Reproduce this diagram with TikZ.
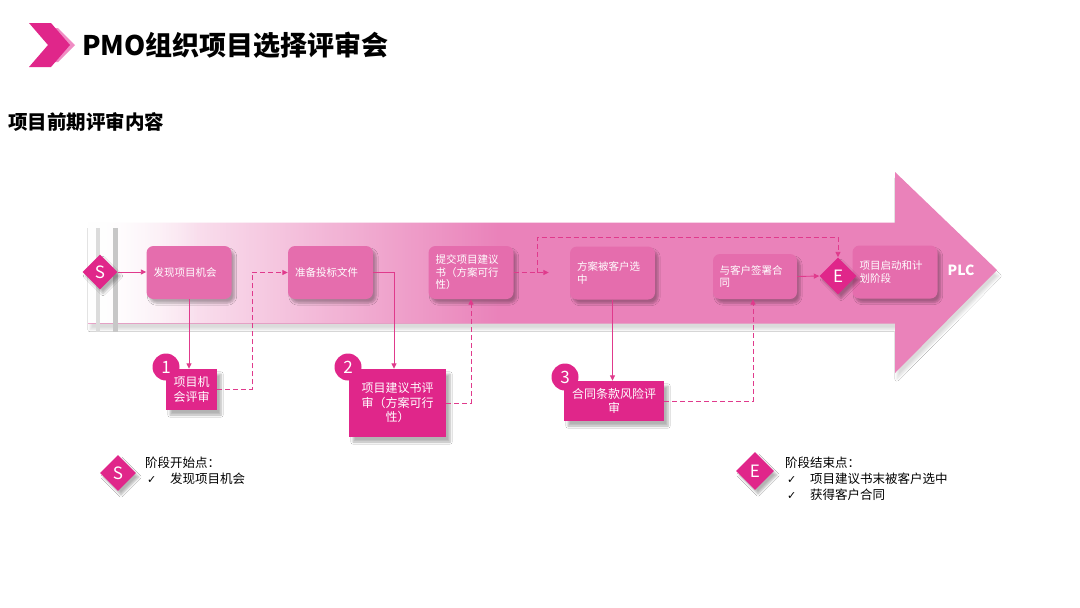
\documentclass[tikz,border=0pt]{standalone}
\usepackage{fontspec}
\setmainfont{Noto Sans CJK SC}
\newfontfamily\symfont{DejaVu Sans}
\usetikzlibrary{shapes.geometric,arrows.meta,shadows.blur,fadings}
\definecolor{arrowpink}{HTML}{EA82BA}
\definecolor{boxpink}{HTML}{E56DAD}
\definecolor{mag}{HTML}{E0268A}
\definecolor{linec}{HTML}{E03A8C}
\definecolor{backchev}{HTML}{F08CC4}
\tikzset{
  flowbox/.style={fill=boxpink, rounded corners=7pt, text=white, align=left,
    text width=71pt, minimum width=85pt, minimum height=53pt, inner sep=0pt,
    font=\fontsize{10.5}{12.5}\selectfont,
    blur shadow={shadow xshift=3pt, shadow yshift=-4pt, shadow opacity=30, shadow blur steps=6}},
  reviewbox/.style={fill=mag, text=white, align=center, inner sep=0pt,
    font=\fontsize{12}{14.5}\selectfont,
    blur shadow={shadow xshift=4pt, shadow yshift=-5pt, shadow opacity=30, shadow blur steps=6}},
  numcircle/.style={circle, fill=mag, text=white, minimum size=27pt, inner sep=0pt,
    font=\fontsize{17}{17}\selectfont},
  dmd/.style={diamond, fill=mag, text=white, inner sep=0pt, aspect=1,
    font=\fontsize{17}{17}\selectfont,
    blur shadow={shadow xshift=3pt, shadow yshift=-4pt, shadow opacity=30, shadow blur steps=6}},
  link/.style={draw=linec, line width=0.9pt, -{Triangle[length=5.5pt,width=5pt]}},
  dlink/.style={link, dash pattern=on 5pt off 3pt},
  legtext/.style={anchor=west, inner sep=0pt, font=\fontsize{12.5}{14}\selectfont},
  chk/.style={anchor=west, inner sep=0pt, font=\symfont\fontsize{11}{12}\selectfont}
}
\begin{document}
\begin{tikzpicture}[x={(1pt,0pt)}, y={(0pt,-1pt)}]
\useasboundingbox (0,0) rectangle (1080,608);
\fill[white] (0,0) rectangle (1080,608);

% title
\fill[backchev] (40,28) -- (58,28) -- (75,45) -- (58,62) -- (40,62) -- (56,45) -- cycle;
\fill[mag] (29,23) -- (51,23) -- (70,45) -- (51,67) -- (29,67) -- (48,45) -- cycle;
\node[anchor=west, inner sep=0pt, font=\fontsize{27}{30}\selectfont\bfseries] (title) at (82,45) {PMO组织项目选择评审会};
\node[anchor=west, inner sep=0pt, font=\fontsize{19.5}{22}\selectfont\bfseries] (sub) at (8,122) {项目前期评审内容};

% big arrow
\path[fill=arrowpink, blur shadow={shadow xshift=2pt, shadow yshift=-6pt, shadow opacity=14, shadow blur steps=8}]
  (88,222.5) -- (895,222.5) -- (895,172) -- (997,270) -- (895,373) -- (895,323.5) -- (88,323.5) -- cycle;
\fill[white, path fading=east] (88,222.5) rectangle (500,323.5);
\fill[white, path fading=east] (88,222.5) rectangle (200,323.5);
\draw[black!14, line width=4pt] (98,228) -- (98,332);
\draw[black!22, line width=5pt] (115,228) -- (115,332);

% flow boxes
\node[flowbox] (b1) at (189,272.5) {发现项目机会};
\node[flowbox] (b2) at (330.5,272.5) {准备投标文件};
\node[flowbox] (b3) at (471,272.5) {提交项目建议\\书（方案可行\\性）};
\node[flowbox] (b4) at (612.5,273) {方案被客户选\\中};
\node[flowbox, minimum width=84pt, minimum height=45pt] (b5) at (755,276.5) {与客户签署合\\同};
\node[flowbox] (b6) at (895,272) {项目启动和计\\划阶段};
\node[text=white, font=\fontsize{14}{14}\selectfont\bfseries, inner sep=0pt] (plc) at (961,270) {PLC};

\node[dmd, minimum size=35pt] (S) at (100,272) {S};
\node[dmd, minimum size=37pt] (E) at (838,276) {E};

% review boxes
\node[reviewbox, minimum width=51pt, minimum height=41pt] (r1) at (191.5,389.5) {项目机\\会评审};
\node[reviewbox, minimum width=97pt, minimum height=68pt] (r2) at (397.5,403) {项目建议书评\\审（方案可行\\性）};
\node[reviewbox, minimum width=100pt, minimum height=40pt] (r3) at (614,401) {合同条款风险评\\审};
\node[numcircle] (n1) at (166,367) {1};
\node[numcircle] (n2) at (348,367) {2};
\node[numcircle] (n3) at (565,377) {3};

% connectors
\coordinate (k1) at (252,330);
\coordinate (J) at (537,272.5);
\coordinate (T) at (537,237);
\draw[link] (S.east) -- (b1.west |- S.east);
\draw[link] (b1.south) -- (b1.south |- r1.north);
\draw[dlink] (r1.east) -| (k1) |- (b2.west);
\draw[link] (b2.east) -| ([xshift=-3.5pt]r2.north);
\draw[dlink] (r2.east) -| (b3.south);
\draw[dlink, shorten >=21pt] (b3.east) -- (b3.east -| b4.west);
\draw[dlink] (J) -- (T) -| (E.north);
\draw[link] (b4.south) -- (b4.south |- r3.north);
\draw[dlink] (r3.east) -| ([xshift=-2pt]b5.south);
\draw[link] (b5.east) -- (E.west);

% legend
\node[dmd, minimum size=36pt] (S2) at (118,473) {S};
\node[legtext] (ls) at (145,463) {阶段开始点：};
\node[chk] (c1) at (147,480) {✓};
\node[legtext] (ls1) at (170,479) {发现项目机会};
\node[dmd, minimum size=38pt] (E2) at (755,471) {E};
\node[legtext] (le) at (785,463) {阶段结束点：};
\node[chk] (c2) at (787,480) {✓};
\node[legtext] (le1) at (810,479) {项目建议书末被客户选中};
\node[chk] (c3) at (787,496) {✓};
\node[legtext] (le2) at (810,495) {获得客户合同};
\end{tikzpicture}
\end{document}
